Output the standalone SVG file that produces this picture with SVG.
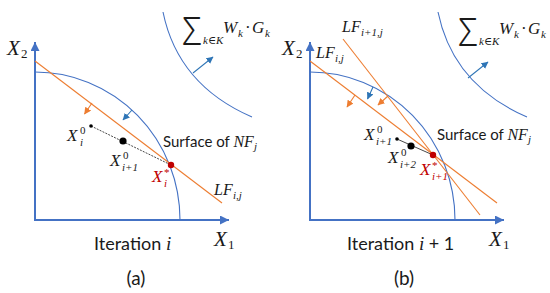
<svg xmlns="http://www.w3.org/2000/svg" width="550" height="293" viewBox="0 0 550 293">
<defs>
<style>
.axis{stroke:#4472C4;stroke-width:2;fill:none}
.arc{stroke:#4472C4;stroke-width:1.1;fill:none}
.lf{stroke:#ED7D31;stroke-width:1.1;fill:none}
.barr{stroke:#2E75B6;stroke-width:1.1;fill:none}
.oarr{stroke:#ED7D31;stroke-width:1.1;fill:none}
.path{stroke:#333;stroke-width:0.9;fill:none}
.m{font-family:"Liberation Serif","DejaVu Serif",serif;font-style:italic;fill:#1a1a1a}
.n{font-style:normal}
.s{font-family:Lato,"Liberation Sans",sans-serif;fill:#1a1a1a}
.sig{font-family:"Noto Sans","DejaVu Sans",sans-serif;font-weight:300;fill:#1a1a1a}
.red{fill:#C00000}
</style>
<marker id="ax" markerUnits="userSpaceOnUse" markerWidth="10" markerHeight="10" refX="9" refY="4.5" orient="auto"><path d="M0,0 L9,4.5 L0,9 z" fill="#4472C4"/></marker>
<marker id="ab" markerUnits="userSpaceOnUse" markerWidth="8" markerHeight="8" refX="6.5" refY="3.5" orient="auto"><path d="M0,0 L7,3.5 L0,7 z" fill="#2E75B6"/></marker>
<marker id="ao" markerUnits="userSpaceOnUse" markerWidth="8" markerHeight="8" refX="6.5" refY="3.5" orient="auto"><path d="M0,0 L7,3.5 L0,7 z" fill="#ED7D31"/></marker>
</defs>
<rect width="550" height="293" fill="#fff"/>

<!-- Panel (a) -->
<g id="axes-a">
<line class="axis" x1="35" y1="221" x2="35" y2="42" marker-end="url(#ax)"/>
<line class="axis" x1="34" y1="220" x2="229" y2="220" marker-end="url(#ax)"/>
<text class="m" x="7" y="55" font-size="21">X</text><text class="m n" x="21" y="58" font-size="13">2</text>
<text class="m" x="214" y="246" font-size="21">X</text><text class="m n" x="228" y="249" font-size="13">1</text>
</g>
<g id="surface-a">
<path class="arc" d="M35,72 A145,148 0 0 1 180,220"/>
<text class="s" x="163" y="147" font-size="15">Surface of <tspan class="m" font-size="16">NF</tspan><tspan class="m" font-size="11" dy="3">j</tspan></text>
</g>
<g id="objective-a">
<path class="arc" d="M163,12 Q178,85 252,117"/>
<text class="sig" x="182" y="45" font-size="38" textLength="20" lengthAdjust="spacingAndGlyphs">Σ</text>
<text class="m" x="203" y="44" font-size="11">k∈K</text>
<text class="m" x="223" y="33" font-size="17">W</text><text class="m" x="238" y="37" font-size="11">k</text>
<text class="m n" x="245" y="33" font-size="17">·</text>
<text class="m" x="252" y="33" font-size="17">G</text><text class="m" x="265" y="37" font-size="11">k</text>
</g>
<g id="lf-a">
<line class="lf" x1="35" y1="61" x2="222" y2="203"/>
<text class="m" x="214" y="195" font-size="16">LF</text><text class="m" x="233" y="199" font-size="11">i,j</text>
</g>
<g id="points-a">
<line class="path" x1="91" y1="126" x2="171" y2="165" stroke-dasharray="2,1.2"/>
<circle cx="91" cy="126" r="1.8" fill="#000"/>
<circle cx="123" cy="141" r="3.6" fill="#000"/>
<circle cx="171" cy="165" r="3.2" fill="#C00000"/>
<text class="m" x="67" y="141" font-size="17">X</text><text class="m n" x="80" y="134" font-size="11">0</text><text class="m" x="80" y="146" font-size="11">i</text>
<text class="m" x="110" y="166" font-size="17">X</text><text class="m n" x="123" y="159" font-size="11">0</text><text class="m" x="122" y="171" font-size="11">i+1</text>
<text class="m red" x="152" y="182" font-size="17">X</text><text class="m red n" x="164" y="176" font-size="11">*</text><text class="m red" x="164" y="187" font-size="11">i</text>
</g>
<g id="caption-a">
<text class="s" x="94" y="250" font-size="18">Iteration <tspan class="m" font-size="19">i</tspan></text>
<text class="s" x="136" y="285" font-size="19" text-anchor="middle">(a)</text>
</g>

<!-- Panel (b) -->
<g id="axes-b">
<line class="axis" x1="310" y1="221" x2="310" y2="42" marker-end="url(#ax)"/>
<line class="axis" x1="309" y1="220" x2="504" y2="220" marker-end="url(#ax)"/>
<text class="m" x="282" y="55" font-size="21">X</text><text class="m n" x="296" y="58" font-size="13">2</text>
<text class="m" x="489" y="246" font-size="21">X</text><text class="m n" x="503" y="249" font-size="13">1</text>
</g>
<g id="surface-b">
<path class="arc" d="M310,72 A145,148 0 0 1 455,220"/>
<text class="s" x="437" y="140" font-size="15">Surface of <tspan class="m" font-size="16">NF</tspan><tspan class="m" font-size="11" dy="3">j</tspan></text>
</g>
<g id="objective-b">
<path class="arc" d="M438,12 Q453,85 527,117"/>
<text class="sig" x="458" y="46" font-size="38" textLength="20" lengthAdjust="spacingAndGlyphs">Σ</text>
<text class="m" x="479" y="45" font-size="11">k∈K</text>
<text class="m" x="499" y="34" font-size="17">W</text><text class="m" x="514" y="38" font-size="11">k</text>
<text class="m n" x="521" y="34" font-size="17">·</text>
<text class="m" x="528" y="34" font-size="17">G</text><text class="m" x="541" y="38" font-size="11">k</text>
</g>
<g id="lf-b">
<line class="lf" x1="310" y1="61" x2="497" y2="203"/>
<line class="lf" x1="343" y1="39" x2="480" y2="215"/>
<text class="m" x="316" y="58" font-size="16">LF</text><text class="m" x="335" y="62" font-size="11">i,j</text>
<text class="m" x="342" y="32" font-size="16">LF</text><text class="m" x="361" y="36" font-size="11">i+1,j</text>
</g>
<g id="points-b">
<line class="path" x1="397" y1="139" x2="433" y2="155"/>
<circle cx="397" cy="139" r="1.8" fill="#000"/>
<circle cx="411" cy="146" r="3.6" fill="#000"/>
<circle cx="433" cy="155" r="3.2" fill="#C00000"/>
<text class="m" x="364" y="140" font-size="17">X</text><text class="m n" x="377" y="133" font-size="11">0</text><text class="m" x="376" y="145" font-size="11">i+1</text>
<text class="m" x="388" y="163" font-size="17">X</text><text class="m n" x="401" y="156" font-size="11">0</text><text class="m" x="400" y="168" font-size="11">i+2</text>
<text class="m red" x="420" y="175" font-size="17">X</text><text class="m red n" x="432" y="169" font-size="11">*</text><text class="m red" x="432" y="180" font-size="11">i+1</text>
</g>
<g id="caption-b">
<text class="s" x="347" y="250" font-size="18">Iteration <tspan class="m" font-size="19">i</tspan> + 1</text>
<text class="s" x="404" y="285" font-size="19" text-anchor="middle">(b)</text>
</g>

<g id="connectors">
<line class="barr" x1="193" y1="73" x2="213" y2="57" marker-end="url(#ab)"/>
<line class="barr" x1="132" y1="110" x2="123" y2="120" marker-end="url(#ab)"/>
<line class="oarr" x1="92" y1="103" x2="84.5" y2="114" marker-end="url(#ao)"/>
<line class="barr" x1="468" y1="78" x2="488" y2="62" marker-end="url(#ab)"/>
<line class="barr" x1="373" y1="87" x2="367.5" y2="99" marker-end="url(#ab)"/>
<line class="oarr" x1="355" y1="95" x2="347" y2="107" marker-end="url(#ao)"/>
<line class="oarr" x1="388" y1="96" x2="378" y2="105" marker-end="url(#ao)"/>
</g>
</svg>
